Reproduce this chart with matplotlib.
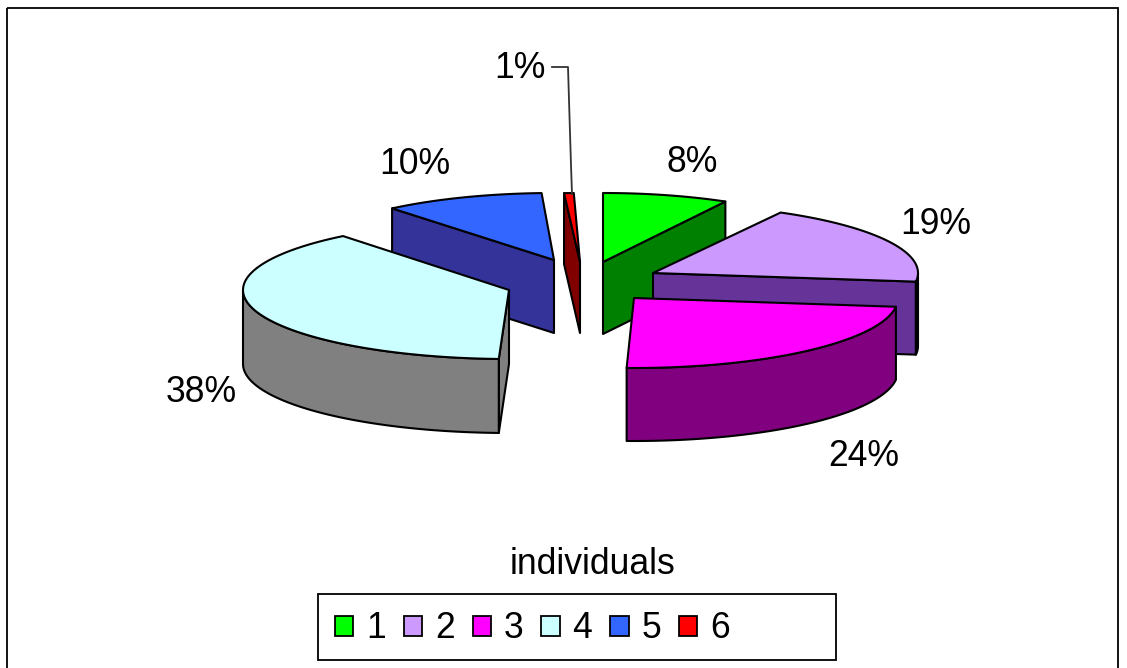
#!/usr/bin/env python3

import numpy as np
import matplotlib
matplotlib.use('Agg')
import matplotlib.pyplot as plt
from matplotlib.patches import Patch, Polygon, Rectangle

# Data
categories = ['1', '2', '3', '4', '5', '6']
percents = [8, 19, 24, 38, 10, 1]
pct_labels = ['8%', '19%', '24%', '38%', '10%', '1%']
title = 'individuals'

# Colours of top and side for each slice
top_colors = ['#00ff00', '#cc99ff', '#ff00ff', '#ccffff', '#3366ff', '#ff0000']
side_colors = ['#008000', '#663399', '#800080', '#808080', '#333399', '#800000']

# Where each exploded slice sits, in pixels
apex_x = [603, 653, 634, 509, 554, 580]
apex_y = [262, 273, 298, 290, 260, 262]
radius_x = [254, 265, 264, 266, 254, 254]
radius_y = [69, 69, 70, 69, 67, 69]
depth = [72, 73, 73, 74, 73, 71]

# Excel's perspective pulls the near-vertical cuts in a bit, degrees
start_fix = [0, 0, 0, -1.4, 0, 0]
end_fix = [0, 0, -2, 1, 0.8, -1.4]

draw_order = [0, 4, 5, 1, 3, 2]

label_x = [692, 936, 864, 201, 415, 520]
label_y = [162, 224, 457, 393, 165, 68]

line_w = 1.5

fig = plt.figure(figsize=[11.27, 6.68], dpi=100)
plt.rcParams['font.family'] = ['Liberation Sans', 'DejaVu Sans']
ax = fig.add_axes([0, 0, 1, 1])
ax.set_xlim(0, 1127)
ax.set_ylim(668, 0)
ax.axis('off')

# Frame of the chart area
ax.add_patch(Rectangle((7, 8), 1111, 680, fill=False, edgecolor='black', linewidth=1.3))


def point(i, theta):
    '''Position on the rim of slice i, theta in degrees clockwise from 12 o'clock'''
    t = np.radians(theta)
    return (apex_x[i] + radius_x[i] * np.sin(t), apex_y[i] - radius_y[i] * np.cos(t))


def extrude(pts, d):
    '''Closed band between a line of points and the same line moved down by d'''
    lower = [(x, y + d) for x, y in pts]
    return list(pts) + lower[::-1]


def draw_slice(i, start, end):
    apex = (apex_x[i], apex_y[i])
    d = depth[i]
    face_args = dict(facecolor=side_colors[i], edgecolor='black', linewidth=line_w, joinstyle='round')

    # Radial cuts, only those turned towards the viewer
    if np.sin(np.radians(start)) < 0:
        ax.add_patch(Polygon(extrude([apex, point(i, start)], d), **face_args))
    if np.sin(np.radians(end)) > 0:
        ax.add_patch(Polygon(extrude([apex, point(i, end)], d), **face_args))

    # Outer wall, front half of the rim only
    lo, hi = max(start, 90), min(end, 270)
    if hi > lo:
        rim = [point(i, a) for a in np.linspace(lo, hi, 60)]
        ax.add_patch(Polygon(extrude(rim, d), **face_args))

    # Top face
    rim = [point(i, a) for a in np.linspace(start, end, 80)]
    ax.add_patch(Polygon([apex] + rim, facecolor=top_colors[i], edgecolor='black',
                         linewidth=line_w, joinstyle='round'))


# Angles for each slice
edges = np.concatenate([[0], np.cumsum(percents)]) * 3.6
for i in draw_order:
    draw_slice(i, edges[i] + start_fix[i], edges[i + 1] + end_fix[i])

# Percentage labels
for i in range(len(percents)):
    ax.text(label_x[i], label_y[i], pct_labels[i], fontsize=25.6, ha='center', va='center', color='black')

# Leader line of the small slice
leader_x = [552, 568, 569, 571, 572]
leader_y = [67, 67, 100, 165, 194]
ax.plot(leader_x, leader_y, color='#333333', linewidth=1.3)

ax.text(592, 564, title, fontsize=25.6, ha='center', va='center', color='black')

# Legend, its box is wider than the entries so it is drawn apart
ax.add_patch(Rectangle((318, 594), 518, 66, facecolor='white', edgecolor='black', linewidth=1.3))
handles = [Patch(facecolor=c, edgecolor='black', linewidth=1.3) for c in top_colors]
leg = ax.legend(handles, categories, ncol=6, loc='center left', bbox_to_anchor=(335, 629),
                bbox_transform=ax.transData, fontsize=25.6, frameon=False,
                handlelength=0.52, handleheight=0.52,
                handletextpad=0.36, columnspacing=0.5, borderpad=0, borderaxespad=0)

fig.savefig('out.png', dpi=100)
